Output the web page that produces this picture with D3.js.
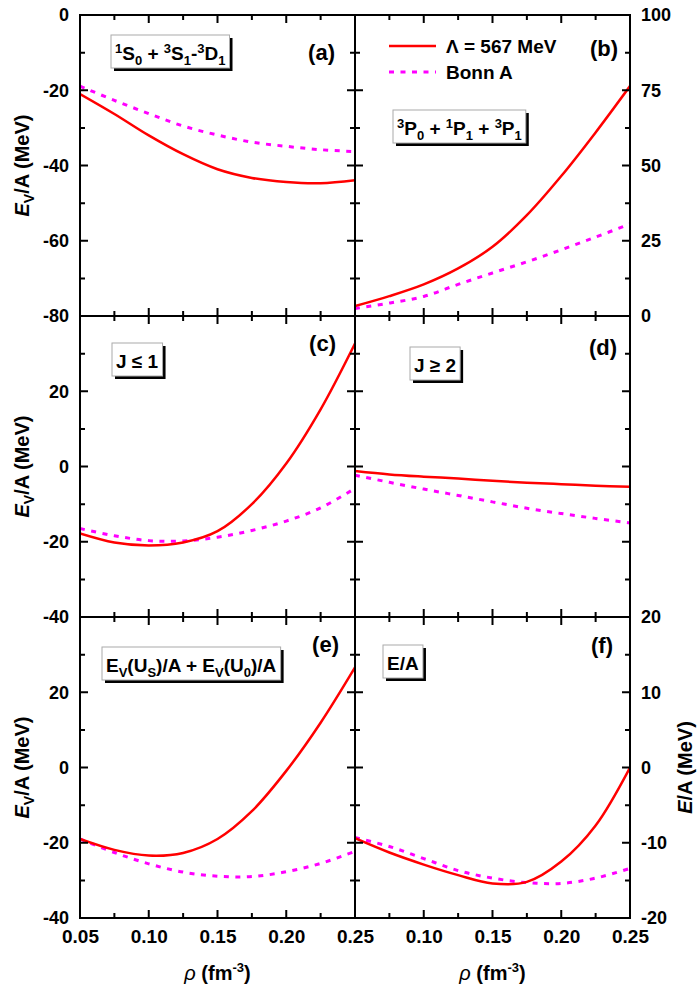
<!DOCTYPE html>
<html>
<head>
<meta charset="utf-8">
<script src="https://cdn.jsdelivr.net/npm/d3@7"></script>
</head>
<body style="margin:0">
<svg id="chart" width="697" height="994"></svg>
<script>
// density grid (fm^-3)
const rho = [0.05, 0.075, 0.10, 0.125, 0.15, 0.175, 0.20, 0.225, 0.25];

// (a) 1S0 + 3S1-3D1
const aLambda = [-21.0, -26.3, -32.0, -37.0, -41.0, -43.3, -44.4, -44.7, -43.9];
const aBonn   = [-18.9, -22.7, -26.2, -29.5, -31.9, -33.8, -34.9, -35.8, -36.3];
// (b) 3P0 + 1P1 + 3P1
const bLambda = [3.3, 6.6, 10.5, 15.8, 23.0, 33.5, 46.5, 61.0, 76.4];
const bBonn   = [2.5, 4.3, 6.5, 10.5, 14.3, 18.0, 22.0, 26.2, 30.6];
// (c) J <= 1
const cLambda = [-17.8, -20.2, -21.0, -20.2, -17.2, -10.0, 0.8, 15.2, 32.7];
const cBonn   = [-16.5, -18.4, -19.7, -19.8, -18.8, -17.0, -14.5, -11.0, -5.8];
// (d) J >= 2
const dLambda = [-1.2, -2.1, -2.7, -3.2, -3.8, -4.3, -4.7, -5.1, -5.4];
const dBonn   = [-2.3, -4.2, -6.0, -7.7, -9.4, -11.1, -12.5, -13.8, -15.0];
// (e) Ev(Us)/A + Ev(U0)/A
const eLambda = [-19.0, -21.9, -23.4, -22.7, -19.0, -11.6, -0.9, 11.9, 26.6];
const eBonn   = [-19.0, -22.6, -25.6, -27.8, -28.9, -29.0, -27.7, -25.5, -22.3];
// (f) E/A
const fLambda = [-9.4, -11.3, -12.9, -14.3, -15.4, -15.2, -12.5, -7.7, 0.0];
const fBonn   = [-9.3, -10.5, -12.1, -13.7, -14.7, -15.3, -15.4, -14.7, -13.4];

// tick labels
const xLabelsLeft  = [0.05, 0.10, 0.15, 0.20, 0.25];
const xLabelsRight = [0.10, 0.15, 0.20, 0.25];
const aTicks = [-80, -60, -40, -20, 0];
const ceTicks = [-40, -20, 0, 20];
const bTicks = [0, 25, 50, 75, 100];
const fTicks = [-20, -10, 0, 10, 20];

const seriesNames = ["\u039B = 567 MeV", "Bonn A"];

// box label segments: [text, kind]
const sup = t => [t, "sup"], sub = t => [t, "sub"], txt = t => [t, ""];
const aBox = [sup("1"), txt("S"), sub("0"), txt(" + "), sup("3"), txt("S"), sub("1"), txt("-"), sup("3"), txt("D"), sub("1")];
const bBox = [sup("3"), txt("P"), sub("0"), txt(" + "), sup("1"), txt("P"), sub("1"), txt(" + "), sup("3"), txt("P"), sub("1")];
const cBox = [txt("J \u2264 1")];
const dBox = [txt("J \u2265 2")];
const eBox = [txt("E"), sub("V"), txt("(U"), sub("S"), txt(")/A + E"), sub("V"), txt("(U"), sub("0"), txt(")/A")];
const fBox = [txt("E/A")];

const cols = [[80, 355], [355, 630]];
const rows = [[15, 316], [316, 617], [617, 918]];

const panels = [
  { tag: "(a)", col: 0, row: 0, dom: [-80, 0],  major: 20, minor: 10,   side: "left",  labels: aTicks,  lam: aLambda, bonn: aBonn, box: aBox, boxAt: [111, 35], tagAt: [20, 45] },
  { tag: "(b)", col: 1, row: 0, dom: [0, 100],  major: 25, minor: 12.5, side: "right", labels: bTicks,  lam: bLambda, bonn: bBonn, box: bBox, boxAt: [393, 110], tagAt: [12, 41] },
  { tag: "(c)", col: 0, row: 1, dom: [-40, 40], major: 20, minor: 10,   side: "left",  labels: ceTicks, lam: cLambda, bonn: cBonn, box: cBox, boxAt: [112, 343], tagAt: [19, 35] },
  { tag: "(d)", col: 1, row: 1, dom: [-40, 40], major: 20, minor: 10,   side: "none",  labels: [],      lam: dLambda, bonn: dBonn, box: dBox, boxAt: [410, 347], tagAt: [13, 39] },
  { tag: "(e)", col: 0, row: 2, dom: [-40, 40], major: 20, minor: 10,   side: "left",  labels: ceTicks, lam: eLambda, bonn: eBonn, box: eBox, boxAt: [102, 647], tagAt: [16, 35] },
  { tag: "(f)", col: 1, row: 2, dom: [-20, 20], major: 10, minor: 5,    side: "right", labels: fTicks,  lam: fLambda, bonn: fBonn, box: fBox, boxAt: [383, 645], tagAt: [17, 36] }
];

const svg = d3.select("#chart")
  .attr("font-family", "'Liberation Sans', Arial, sans-serif")
  .attr("font-weight", "bold");
const curveGen = (x, y) => d3.line().x((d, i) => x(rho[i])).y(d => y(d)).curve(d3.curveCatmullRom.alpha(0.5));
const plain = d => String(d);   // hyphen minus, as in the original

function range(a, b, step) {
  const out = [];
  for (let v = a; v <= b + 1e-9; v += step) out.push(+v.toFixed(4));
  return out;
}

// rich text with sub/superscripts
function richText(sel, segs, size) {
  const small = Math.round(size * 0.68);
  let shift = 0;
  segs.forEach(([t, kind]) => {
    const target = kind === "sup" ? -size * 0.38 : kind === "sub" ? size * 0.25 : 0;
    sel.append("tspan")
      .attr("dy", target - shift)
      .attr("font-size", kind ? small : size)
      .text(t);
    shift = target;
  });
}

const tickPaths = [];

panels.forEach((p, k) => {
  const [x0, x1] = cols[p.col];
  const [y0, y1] = rows[p.row];
  const x = d3.scaleLinear().domain([0.05, 0.25]).range([x0, x1]);
  const y = d3.scaleLinear().domain(p.dom).range([y1, y0]);
  const g = svg.append("g");

  const majX = range(0.05, 0.25, 0.05), minX = range(0.075, 0.25, 0.05);
  const majY = range(p.dom[0], p.dom[1], p.major), minY = range(p.dom[0] + p.minor, p.dom[1], p.major);

  // inward ticks on all four sides, placed by the scales
  const tp = d3.path();
  [[majX, 8], [minX, 5]].forEach(([vals, len]) => vals.forEach(v => {
    tp.moveTo(x(v), y1); tp.lineTo(x(v), y1 - len);
    tp.moveTo(x(v), y0); tp.lineTo(x(v), y0 + len);
  }));
  [[majY, 8], [minY, 5]].forEach(([vals, len]) => vals.forEach(v => {
    tp.moveTo(x0, y(v)); tp.lineTo(x0 + len, y(v));
    tp.moveTo(x1, y(v)); tp.lineTo(x1 - len, y(v));
  }));
  tickPaths.push(tp.toString());

  // y tick labels
  if (p.side !== "none") {
    const ax = p.side === "left" ? d3.axisLeft(y) : d3.axisRight(y);
    g.append("g")
      .attr("transform", `translate(${p.side === "left" ? x0 : x1},0)`)
      .call(ax.tickValues(p.labels).tickSize(0).tickPadding(11).tickFormat(plain))
      .call(s => s.select(".domain").remove())
      .call(s => s.selectAll("text").attr("font-size", 18).attr("font-family", null).attr("fill", "#000"));
  }

  // x tick labels on bottom row
  if (p.row === 2) {
    g.append("g")
      .attr("transform", `translate(0,${y1})`)
      .call(d3.axisBottom(x).tickValues(p.col === 0 ? xLabelsLeft : xLabelsRight)
        .tickSize(0).tickPadding(12).tickFormat(d3.format(".2f")))
      .call(s => s.select(".domain").remove())
      .call(s => s.selectAll("text").attr("font-size", 19).attr("font-family", null).attr("fill", "#000"));
  }

  // curves
  const clipId = "clip" + k;
  g.append("clipPath").attr("id", clipId)
    .append("rect").attr("x", x0).attr("y", y0).attr("width", x1 - x0).attr("height", y1 - y0);
  const curves = g.append("g").attr("clip-path", `url(#${clipId})`);
  curves.append("path").datum(p.bonn)
    .attr("d", curveGen(x, y)).attr("fill", "none")
    .attr("stroke", "#ff00ff").attr("stroke-width", 3).attr("stroke-dasharray", "5,6.5");
  curves.append("path").datum(p.lam)
    .attr("d", curveGen(x, y)).attr("fill", "none")
    .attr("stroke", "#ff0000").attr("stroke-width", 2.5);

  // frame
  g.append("rect").attr("x", x0).attr("y", y0).attr("width", x1 - x0).attr("height", y1 - y0)
    .attr("fill", "none").attr("stroke", "#000").attr("stroke-width", 2);

  // panel tag
  g.append("text").attr("x", x1 - p.tagAt[0]).attr("y", y0 + p.tagAt[1])
    .attr("text-anchor", "end").attr("font-size", 22).text(p.tag);

  // boxed label
  const bg = g.append("g");
  const t = bg.append("text").attr("x", p.boxAt[0] + 4).attr("y", p.boxAt[1] + 25);
  richText(t, p.box, 19);
  const bb = t.node().getBBox();
  const bw = bb.width + 8, bh = 33;
  bg.insert("rect", "text").attr("x", p.boxAt[0] + 3).attr("y", p.boxAt[1] + 3)
    .attr("width", bw).attr("height", bh).attr("fill", "#000");
  bg.insert("rect", "text").attr("x", p.boxAt[0]).attr("y", p.boxAt[1])
    .attr("width", bw).attr("height", bh).attr("fill", "#fff").attr("stroke", "#aaa").attr("stroke-width", 1);
});

// legend in (b)
const legend = svg.append("g");
[["#ff0000", null, 2.5, 46], ["#ff00ff", "5,6.5", 3, 72]].forEach(([c, dash, w, ly], i) => {
  legend.append("line").attr("x1", 389).attr("x2", 436).attr("y1", ly).attr("y2", ly)
    .attr("stroke", c).attr("stroke-width", w).attr("stroke-dasharray", dash);
  legend.append("text").attr("x", 446).attr("y", ly + 7).attr("font-size", 19).text(seriesNames[i]);
});

// y axis titles (left)
rows.forEach(([a, b]) => {
  const t = svg.append("text")
    .attr("transform", `translate(29,${(a + b) / 2}) rotate(-90)`)
    .attr("text-anchor", "middle").attr("font-size", 20);
  t.append("tspan").attr("font-style", "italic").text("E");
  t.append("tspan").attr("font-size", 14).attr("dy", 5).text("V");
  t.append("tspan").attr("dy", -5).text("/A (MeV)");
});

// right title for (f)
const rt = svg.append("text")
  .attr("transform", `translate(692,${(rows[2][0] + rows[2][1]) / 2}) rotate(-90)`)
  .attr("text-anchor", "middle").attr("font-size", 20);
rt.append("tspan").attr("font-style", "italic").text("E");
rt.append("tspan").text("/A (MeV)");

// x titles
cols.forEach(([a, b]) => {
  const t = svg.append("text").attr("x", (a + b) / 2).attr("y", 980)
    .attr("text-anchor", "middle").attr("font-size", 20);
  t.append("tspan").attr("font-style", "italic").attr("font-weight", "normal").text("\u03C1");
  t.append("tspan").text(" (fm");
  t.append("tspan").attr("font-size", 13).attr("dy", -8).text("-3");
  t.append("tspan").attr("dy", 8).text(")");
});

// tick marks last, straight on the svg
tickPaths.forEach(d => {
  svg.append("path").attr("d", d).attr("stroke", "#000").attr("stroke-width", 2).attr("fill", "none");
});
</script>
</body>
</html>
